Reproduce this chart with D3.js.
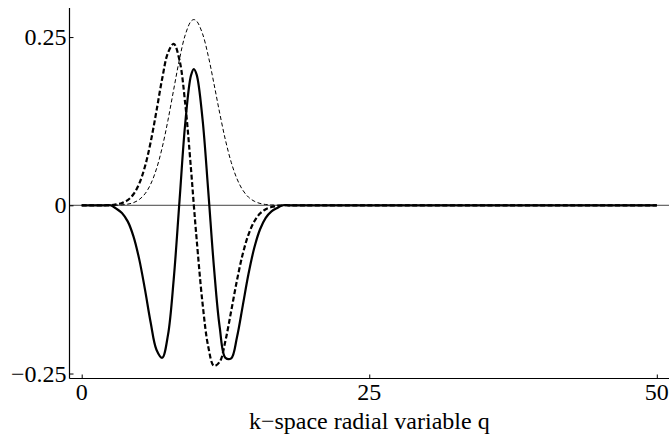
<!DOCTYPE html>
<html>
<head>
<meta charset="utf-8">
<script src="https://cdn.jsdelivr.net/npm/d3@7"></script>
</head>
<body style="margin:0">
<svg id="chart" width="669" height="436" font-family="Liberation Serif" style="font-family: 'Liberation Serif'"></svg>
<script>
// k-space radial variable q (sample positions)
const qValues = [0, 1, 2, 2.5, 3.0, 3.5, 4.0, 4.5, 5.0, 5.5, 6.0, 6.5, 7.0, 7.5, 8.0, 8.5, 9.0, 9.5, 9.75,
  10.0, 10.5, 11.0, 11.5, 12.0, 12.5, 13.0, 13.5, 14.0, 14.5, 15.0, 15.5, 16.0, 16.5, 17.0, 17.5, 18, 19, 50];

// thin dashed curve
const thinDashed = [0, 0, 0, 0, 0.0002, 0.0007, 0.0017, 0.0039, 0.0085, 0.0170, 0.0315, 0.0541, 0.0859, 0.1264,
  0.1721, 0.2169, 0.2531, 0.2734, 0.2760, 0.2736, 0.2553, 0.2223, 0.1806, 0.1369, 0.0968, 0.0639, 0.0394,
  0.0226, 0.0121, 0.0061, 0.0028, 0.0012, 0.0005, 0.0002, 0, 0, 0, 0];

// thick dashed curve
const thickDashed = [0, 0, 0, 0, 0.0013, 0.0033, 0.0077, 0.0164, 0.0321, 0.0576, 0.0942, 0.1401, 0.1884, 0.2266,
  0.2400, 0.2160, 0.1513, 0.0545, 0, -0.0517, -0.1446, -0.2098, -0.2387, -0.2326, -0.2011, -0.1568, -0.1115,
  -0.0725, -0.0435, -0.0241, -0.0123, -0.0058, -0.0026, -0.0010, 0, 0, 0, 0];

// thick solid curve
const solidCurve = [0, 0, 0, 0, -0.0049, -0.0113, -0.0239, -0.0461, -0.0800, -0.1250, -0.1745, -0.2146, -0.2266, -0.1930,
  -0.1100, 0.0057, 0.1212, 0.1928, 0.2025, 0.1938, 0.1290, 0.0219, -0.0923, -0.1813, -0.2267, -0.2274, -0.1961,
  -0.1494, -0.1022, -0.0635, -0.0360, -0.0187, -0.0089, -0.0039, 0, 0, 0, 0];

const xTicks = [0, 25, 50];
const xTickLabels = ["0", "25", "50"];
const yTicks = [0.25, 0, -0.25];
const yTickLabels = ["0.25", "0", "\u22120.25"];
const xLabel = "k\u2212space radial variable q";

const svg = d3.select("#chart");
const mLeft = 69.5, mRight = 669, mTop = 8, mBottom = 378.5;

const x = d3.scaleLinear().domain([-1.06, 51.06]).range([mLeft, mRight]);
const y = d3.scaleLinear().domain([-0.2574, 0.2932]).range([mBottom, mTop]);

// zero line
svg.append("line")
  .attr("x1", mLeft).attr("x2", mRight)
  .attr("y1", y(0)).attr("y2", y(0))
  .attr("stroke", "#444").attr("stroke-width", 1);

const lineGen = (vals) => d3.line()
  .x((d, i) => x(qValues[i]))
  .y(d => y(d))
  .curve(d3.curveCatmullRom.alpha(0.5))(vals);

svg.append("path").attr("d", lineGen(thinDashed))
  .attr("fill", "none").attr("stroke", "#000").attr("stroke-width", 1)
  .attr("stroke-dasharray", "4,2.5");

svg.append("path").attr("d", lineGen(thickDashed))
  .attr("fill", "none").attr("stroke", "#000").attr("stroke-width", 2.2)
  .attr("stroke-dasharray", "5,2.5");

svg.append("path").attr("d", lineGen(solidCurve))
  .attr("fill", "none").attr("stroke", "#000").attr("stroke-width", 2.2);

// axes
const yAxis = d3.axisRight(y).tickValues(yTicks).tickSize(4).tickFormat("");
const gy = svg.append("g").attr("transform", `translate(${mLeft},0)`).call(yAxis);
gy.select(".domain").remove();
gy.selectAll(".tick line").attr("stroke", "#000");
gy.attr("font-family", "Liberation Serif");

const xAxis = d3.axisTop(x).tickValues(xTicks).tickSize(4).tickFormat("");
const gx = svg.append("g").attr("transform", `translate(0,${mBottom})`).call(xAxis);
gx.select(".domain").remove();
gx.selectAll(".tick line").attr("stroke", "#000");
gx.attr("font-family", "Liberation Serif");

svg.append("line").attr("x1", mLeft).attr("x2", mLeft).attr("y1", mTop).attr("y2", mBottom)
  .attr("stroke", "#000").attr("stroke-width", 1.2);
svg.append("line").attr("x1", mLeft).attr("x2", mRight).attr("y1", mBottom).attr("y2", mBottom)
  .attr("stroke", "#000").attr("stroke-width", 1.2);

// tick labels
const labelGroup = svg.append("g");
labelGroup.selectAll("text.ylab").data(yTicks).enter().append("text")
  .attr("class", "ylab")
  .attr("x", mLeft - 3)
  .attr("y", d => y(d) + 8)
  .attr("text-anchor", "end")
  .attr("font-size", 24)
  .attr("font-family", "Liberation Serif")
  .style("font-family", '"Liberation Serif"')
  .text((d, i) => yTickLabels[i]);

labelGroup.selectAll("text.xlab").data(xTicks).enter().append("text")
  .attr("class", "xlab")
  .attr("x", d => x(d))
  .attr("y", mBottom + 21)
  .attr("text-anchor", "middle")
  .attr("font-size", 24)
  .attr("font-family", "Liberation Serif")
  .style("font-family", '"Liberation Serif"')
  .text((d, i) => xTickLabels[i]);

labelGroup.append("text")
  .attr("x", x(25))
  .attr("y", 429)
  .attr("text-anchor", "middle")
  .attr("font-size", 24)
  .attr("font-family", "Liberation Serif")
  .style("font-family", '"Liberation Serif"')
  .text(xLabel);
</script>
</body>
</html>
